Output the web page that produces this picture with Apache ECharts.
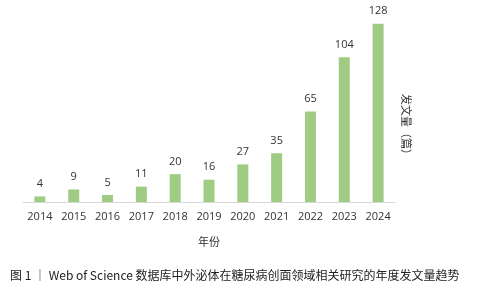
<!DOCTYPE html>
<html>
<head>
<meta charset="utf-8">
<script src="https://cdn.jsdelivr.net/npm/echarts@6/dist/echarts.min.js"></script>
<style>
  html, body { margin: 0; padding: 0; background: #fff; }
  #chart { width: 485px; height: 300px; }
</style>
</head>
<body>
<div id="chart"></div>
<script>
// 年份 和 发文量
const years = ['2014', '2015', '2016', '2017', '2018', '2019', '2020', '2021', '2022', '2023', '2024'];
const counts = [4, 9, 5, 11, 20, 16, 27, 35, 65, 104, 128];

const latin = '"Open Sans", "Noto Sans CJK SC", sans-serif';
const cjk = '"Noto Sans CJK SC", "Open Sans", sans-serif';

const chart = echarts.init(document.getElementById('chart'));
chart.setOption({
  animation: false,
  grid: { left: 23, right: 90, top: 7, bottom: 98 },
  xAxis: {
    type: 'category',
    data: years,
    axisLine: { lineStyle: { color: '#d9d9d9' } },
    axisTick: { show: false },
    axisLabel: { color: '#333', fontSize: 11, fontFamily: latin, margin: 9 },
    name: '年份',
    nameLocation: 'middle',
    nameGap: 34,
    nameTextStyle: { color: '#333', fontSize: 11, fontFamily: cjk }
  },
  yAxis: {
    type: 'value',
    min: 0,
    max: 140,
    show: false
  },
  series: [{
    type: 'bar',
    data: counts,
    barWidth: 11,
    itemStyle: { color: '#9fcb83' },
    label: {
      show: true,
      position: 'top',
      distance: 7,
      color: '#333',
      fontSize: 11,
      fontFamily: latin
    }
  }],
  graphic: [
    {
      type: 'text',
      x: 406,
      y: 127,
      rotation: -Math.PI / 2,
      style: {
        text: '发文量（篇）',
        font: '11px "Noto Sans CJK SC"',
        fill: '#333',
        align: 'center',
        verticalAlign: 'middle'
      }
    },
    {
      type: 'text',
      x: 10,
      y: 275,
      style: {
        text: '图 1 ｜ Web of Science 数据库中外泌体在糖尿病创面领域相关研究的年度发文量趋势',
        font: '12px "Noto Sans CJK SC"',
        fill: '#222',
        align: 'left',
        verticalAlign: 'middle'
      }
    }
  ]
});
</script>
</body>
</html>
